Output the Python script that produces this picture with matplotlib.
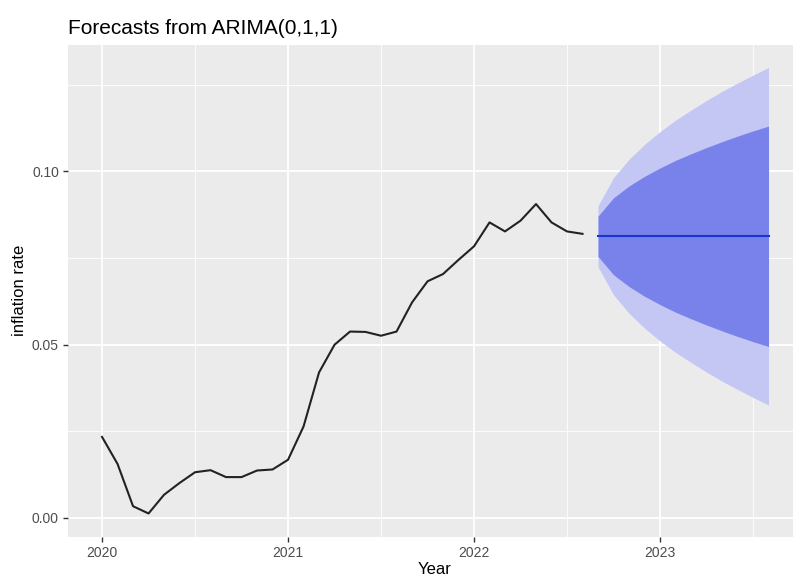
import numpy as np
import matplotlib.pyplot as plt

plt.rcParams['font.family'] = ['Liberation Sans', 'DejaVu Sans']

# monthly inflation rate, Jan 2020 - Aug 2022
inflation = [0.0234, 0.0156, 0.0034, 0.0013, 0.0067, 0.0101, 0.0132, 0.0138,
             0.0118, 0.0118, 0.0137, 0.0140,
             0.0168, 0.0264, 0.0420, 0.0500, 0.0538, 0.0537, 0.0526, 0.0538,
             0.0622, 0.0683, 0.0704, 0.0745,
             0.0784, 0.0853, 0.0827, 0.0858, 0.0906, 0.0853, 0.0827, 0.0820]

# ARIMA(0,1,1) forecast, Sep 2022 - Aug 2023
fc_mean = [0.0813] * 12
hi80 = [0.0871, 0.0924, 0.0958, 0.0986, 0.1010, 0.1032,
        0.1051, 0.1069, 0.1086, 0.1102, 0.1117, 0.1131]
lo80 = [0.0755, 0.0702, 0.0668, 0.0640, 0.0616, 0.0594,
        0.0575, 0.0557, 0.0540, 0.0524, 0.0509, 0.0495]
hi95 = [0.0901, 0.0982, 0.1035, 0.1078, 0.1115, 0.1148,
        0.1177, 0.1205, 0.1231, 0.1255, 0.1278, 0.1300]
lo95 = [0.0725, 0.0644, 0.0591, 0.0548, 0.0511, 0.0478,
        0.0449, 0.0421, 0.0395, 0.0371, 0.0348, 0.0326]

t_hist = 2020 + np.arange(len(inflation)) / 12
t_fc = 2020 + (len(inflation) + np.arange(len(fc_mean))) / 12

fig = plt.figure(figsize=(7.93, 5.77), dpi=100)
ax = fig.add_axes([68 / 793, 40.3 / 577, 725 / 793, 491.7 / 577])
ax.set_facecolor('#EBEBEB')

ax.fill_between(t_fc, lo95, hi95, color='#C4C6F4', lw=0, zorder=2)
ax.fill_between(t_fc, lo80, hi80, color='#7882EA', lw=0, zorder=3)
ax.plot(t_fc, fc_mean, color='#1537CF', lw=1.5, zorder=4)
ax.plot(t_hist, inflation, color='#222222', lw=1.5, zorder=4)

ax.set_xlim(2019.817, 2023.715)
ax.set_ylim(-0.0054, 0.1365)
ax.set_xticks([2020, 2021, 2022, 2023])
ax.set_xticks([2020.5, 2021.5, 2022.5, 2023.5], minor=True)
ax.set_yticks([0.00, 0.05, 0.10])
ax.set_yticks([0.025, 0.075, 0.125], minor=True)
ax.set_yticklabels(['0.00', '0.05', '0.10'])

ax.grid(which='major', color='white', lw=1.3, zorder=1)
ax.grid(which='minor', color='white', lw=0.6, zorder=1)
ax.set_axisbelow(True)
for s in ax.spines.values():
    s.set_visible(False)
ax.tick_params(which='major', length=3.5, width=1, color='#333333',
               labelcolor='#4D4D4D', labelsize=10, pad=3)
ax.tick_params(which='minor', length=0)

ax.set_xlabel('Year', fontsize=12)
ax.xaxis.set_label_coords(0.506, -0.052)
ax.set_ylabel('inflation rate', fontsize=12)
ax.yaxis.set_label_coords(-0.056, 0.5)
ax.set_title('Forecasts from ARIMA(0,1,1)', loc='left', fontsize=15, pad=8)

fig.savefig('out.png', dpi=100)
